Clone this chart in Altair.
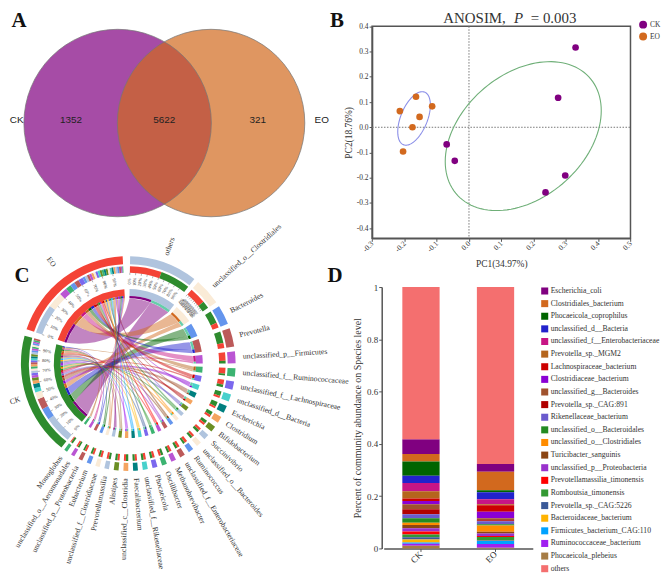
import math
import altair as alt
import pandas as pd

SERIF = "Liberation Serif"
SANS = "Liberation Sans"
INK = "#333333"

# ---------- Panel A ----------
VENN_SETS = ["CK", "EO"]
VENN_X = [-0.5, 0.5]
VENN_COLORS = ["#800080", "#D2691E"]
VENN_COUNTS = [1352, 5622, 321]
VENN_COUNT_X = [-1.0, 0.0, 1.0]
VENN_NAMES = ["CK", "EO"]
VENN_NAME_X = [-1.58, 1.685]

# ---------- Panel B ----------
PC1_CK = [0.33, 0.276, -0.069, -0.044, 0.237, 0.298]
PC2_CK = [0.316, 0.117, -0.068, -0.133, -0.258, -0.191]
PC1_EO = [-0.214, -0.164, -0.114, -0.153, -0.175, -0.204]
PC2_EO = [0.064, 0.121, 0.083, 0.041, 0.0, -0.096]
ELLIPSE_CK = dict(cx=0.168, cy=-0.035, rx=0.2415, ry=0.295, d=70)
ELLIPSE_EO = dict(cx=-0.17, cy=0.035, rx=0.0505, ry=0.106, d=60)
X_TICKS = [-0.3, -0.2, -0.1, 0, 0.1, 0.2, 0.3, 0.4, 0.5]
Y_TICKS = [-0.4, -0.3, -0.2, -0.1, 0, 0.1, 0.2, 0.3, 0.4]

# ---------- Panel C ----------
CHORD_NAMES = ["others", "unclassified_o__Clostridiales", "Bacteroides", "Prevotella",
               "unclassified_p__Firmicutes", "unclassified_f__Ruminococcaceae",
               "unclassified_f__Lachnospiraceae", "unclassified_d__Bacteria", "Escherichia",
               "Clostridium", "Bifidobacterium", "Succinivibrio", "unclassified_o__Bacteroides",
               "Ruminococcus", "unclassified_f__Enterobacteriaceae", "Methanobrevibacter",
               "Oscillibacter", "Phocaeicola", "unclassified_f__Rikenellaceae", "Faecalibacterium",
               "unclassified_c__Clostridia", "Alistipes", "Prevotellamassilia",
               "unclassified_f__Clostridiaceae", "Eubacterium", "unclassified_p__Proteobacteria",
               "unclassified_o__Aeromonadales", "Monoglobus"]
FLOW_EO = [19, 10, 3, 3, 5, 3.5, 3, 1.2, 1.2, 1.4, 1.3, 1.5, 1.4, 1.6, 1.5, 1.5, 1.3, 1.4, 1.4, 1.3,
           1.2, 1.3, 1.2, 1.3, 1.2, 1.2, 0.9, 0.6]
FLOW_CK = [18, 4.5, 7.5, 7, 1.5, 1, 1.5, 2.8, 2.8, 2.1, 1.9, 1.5, 1.4, 1.2, 1.3, 1.2, 1.4, 1.3, 1.3,
           1.3, 1.4, 1.3, 1.3, 1.1, 1.1, 1.0, 1.1, 1.2]
SECTOR_CYCLE = ["#B0C4DE", "#FAEBD7", "#6495ED", "#BC5A5A", "#BA55D3", "#3CB371", "#7B68EE", "#48D1CC",
                "#008080", "#F4A460", "#6B8E23"]
GROUP_RED = "#F44336"
GROUP_GREEN = "#2E8B2E"
TRACK_ALT = "#66CDAA"
SPAN_EO = (288.6, 357.0)
SPAN_CK = (218.5, 285.0)

# ---------- Panel D ----------
TAXA = ["Escherichia_coli", "Clostridiales_bacterium", "Phocaeicola_coprophilus", "unclassified_d__Bacteria",
        "unclassified_f__Enterobacteriaceae", "Prevotella_sp._MGM2", "Lachnospiraceae_bacterium",
        "Clostridiaceae_bacterium", "unclassified_g__Bacteroides", "Prevotella_sp._CAG:891",
        "Rikenellaceae_bacterium", "unclassified_o__Bacteroidales", "unclassified_o__Clostridiales",
        "Turicibacter_sanguinis", "unclassified_p__Proteobacteria", "Prevotellamassilia_timonensis",
        "Romboutsia_timonensis", "Prevotella_sp._CAG:5226", "Bacteroidaceae_bacterium",
        "Firmicutes_bacterium_CAG:110", "Ruminococcaceae_bacterium", "Phocaeicola_plebeius", "others"]
TAXA_COLORS = ["#800080", "#D2691E", "#006400", "#2222CC", "#C71585", "#B5651D", "#CC0000", "#8A00D4",
               "#A0522D", "#B00000", "#6A5ACD", "#228B22", "#FF8C00", "#8B4513", "#9932CC", "#FF0000",
               "#339933", "#3A5998", "#FFB300", "#00A2FF", "#A020F0", "#A67C45", "#F46F6F"]
STACK_CK = [0.057, 0.028, 0.055, 0.028, 0.031, 0.028, 0.010, 0.012, 0.019, 0.019, 0.016, 0.017, 0.008, 0.013,
            0.012, 0.012, 0.010, 0.009, 0.011, 0.005, 0.008, 0.010, 0.582]
STACK_EO = [0.030, 0.070, 0.008, 0.027, 0.019, 0.004, 0.025, 0.025, 0.007, 0.004, 0.0115, 0.005, 0.0241, 0.0064,
            0.009, 0.004, 0.012, 0.003, 0.001, 0.0115, 0.014, 0.0025, 0.677]

axis_common = dict(labelFont=SERIF, titleFont=SERIF, grid=False, domainColor="#555555", tickColor="#555555",
                   labelColor=INK, titleColor=INK, titleFontWeight="normal", labelPadding=1)
MINUS = "replace(datum.label, '\u2212', '-')"


def letter(text, x, y):
    return alt.Chart(pd.DataFrame({"t": [text]})).mark_text(
        font=SERIF, fontWeight="bold", fontSize=21, color="#111111", align="center", baseline="alphabetic"
    ).encode(text="t:N", x=alt.value(x), y=alt.value(y))


# ---------- A ----------
ax = alt.X("x:Q", axis=None, scale=alt.Scale(domain=[-1, 1], range=[62.3, 250.3]))
ay = alt.Y("y:Q", axis=None, scale=alt.Scale(domain=[-1, 1], range=[208, 20]))
VENN_SIZE = (2 * 94.3) ** 2
circles = [
    alt.Chart(pd.DataFrame({"x": [VENN_X[i]], "y": [0]})).mark_point(
        shape="circle", filled=True, size=VENN_SIZE, color=VENN_COLORS[i], opacity=0.7
    ).encode(x=ax, y=ay)
    for i in range(2)
]
outline = alt.Chart(pd.DataFrame({"x": VENN_X, "y": [0, 0]})).mark_point(
    shape="circle", filled=False, size=VENN_SIZE, stroke="#777777", strokeWidth=0.8, opacity=0.9
).encode(x=ax, y=ay)
counts = alt.Chart(pd.DataFrame({"x": VENN_COUNT_X, "y": [0.035] * 3, "t": VENN_COUNTS})).mark_text(
    font=SANS, fontSize=10, color="#222222"
).encode(x=ax, y=ay, text="t:Q")
names = alt.Chart(pd.DataFrame({"x": VENN_NAME_X, "y": [0.035, 0.035], "t": VENN_NAMES})).mark_text(
    font=SANS, fontSize=10, color="#222222"
).encode(x=ax, y=ay, text="t:N")
panel_a = alt.layer(*circles, outline, counts, names, letter("A", 10, 17)).properties(width=332, height=232)

# ---------- B ----------
bx_scale = alt.Scale(domain=[-0.3, 0.5], range=[33.3, 293.3], nice=False, zero=False)
by_scale = alt.Scale(domain=[-0.44, 0.4], range=[230, 16.7], nice=False, zero=False)
b_xaxis = alt.Axis(values=X_TICKS, labelAngle=-45, labelFontSize=7.5, titleFontSize=9.5, offset=-2,
                   tickSize=3, domainWidth=1.5, titlePadding=5, labelExpr=MINUS, labelAlign="right",
                   labelBaseline="middle", **axis_common)
b_yaxis = alt.Axis(values=Y_TICKS, labelFontSize=7.5, titleFontSize=9.5, offset=-33.3, tickSize=3,
                   domainWidth=1.5, titlePadding=3, labelExpr=MINUS, **axis_common)


def BX(f):
    return alt.X(f, scale=bx_scale, title="PC1(34.97%)", axis=b_xaxis)


def BY(f):
    return alt.Y(f, scale=by_scale, title="PC2(18.76%)", axis=b_yaxis)


def ellipse(p):
    rows = []
    for k in range(0, 121):
        t = 2 * math.pi * k / 120
        rows.append({"x": p["cx"] + p["rx"] * math.cos(t),
                     "y": p["cy"] + p["ry"] * math.cos(t - math.radians(p["d"])), "k": k})
    return pd.DataFrame(rows)


pts = pd.DataFrame({"x": PC1_CK + PC1_EO, "y": PC2_CK + PC2_EO, "Group": ["CK"] * 6 + ["EO"] * 6})
frame = alt.Chart(pd.DataFrame({"a": [-0.3], "b": [0.5], "c": [-0.44], "d": [0.4]})).mark_rect(
    fill="white", fillOpacity=0, stroke="#555555", strokeWidth=1.5
).encode(x=BX("a:Q"), x2="b:Q", y=BY("c:Q"), y2="d:Q")
vrule = alt.Chart(pd.DataFrame({"x": [0]})).mark_rule(color="#777777", strokeDash=[1.5, 1.5], strokeWidth=1).encode(
    x=BX("x:Q"), y=alt.value(16.7), y2=alt.value(230))
hrule = alt.Chart(pd.DataFrame({"y": [0]})).mark_rule(color="#777777", strokeDash=[1.5, 1.5], strokeWidth=1).encode(
    y=BY("y:Q"), x=alt.value(33.3), x2=alt.value(293.3))
ell_ck = alt.Chart(ellipse(ELLIPSE_CK)).mark_line(color="#6FAF78", strokeWidth=1.1).encode(
    x=BX("x:Q"), y=BY("y:Q"), order="k:Q")
ell_eo = alt.Chart(ellipse(ELLIPSE_EO)).mark_line(color="#8B8FE8", strokeWidth=1.1).encode(
    x=BX("x:Q"), y=BY("y:Q"), order="k:Q")
scatter = alt.Chart(pts).mark_circle(size=45, opacity=1).encode(
    x=BX("x:Q"), y=BY("y:Q"),
    color=alt.Color("Group:N", scale=alt.Scale(domain=VENN_SETS, range=VENN_COLORS),
                    legend=alt.Legend(orient="none", legendX=301, legendY=10, title=None, symbolSize=64,
                                      labelFont=SERIF, labelFontSize=7.5, labelColor=INK, rowPadding=3,
                                      labelOffset=2, symbolType="circle", padding=0)))
title_a = alt.Chart(pd.DataFrame({"t": ["ANOSIM,"]})).mark_text(font=SERIF, fontSize=15, align="left", baseline="alphabetic", color=INK).encode(
    text="t:N", x=alt.value(105), y=alt.value(13))
title_p = alt.Chart(pd.DataFrame({"t": ["P"]})).mark_text(font=SERIF, fontSize=15, fontStyle="italic", align="left", baseline="alphabetic", color=INK).encode(
    text="t:N", x=alt.value(176), y=alt.value(13))
title_c = alt.Chart(pd.DataFrame({"t": ["= 0.003"]})).mark_text(font=SERIF, fontSize=15, align="left", baseline="alphabetic", color=INK).encode(
    text="t:N", x=alt.value(193), y=alt.value(13))
panel_b = alt.layer(frame, vrule, hrule, ell_ck, ell_eo, scatter, title_a, title_p, title_c, letter("B", -2, 17)).properties(
    width=321, height=232)

# ---------- C ----------
C_R = 108
C_CX, C_CY = 120, 124
RING1 = (1.0, 0.926)
RING2 = (0.907, 0.846)
TRACK = (0.694, 0.63)
THIN = (0.63, 0.608)
RIBBON_R = 0.605
START, GAP = 1.0, 2.6

colors_sector = [SECTOR_CYCLE[i % 11] for i in range(len(CHORD_NAMES))]
ribbon_colors = [TAXA_COLORS[i % 22] for i in range(len(CHORD_NAMES))]
arcs = []


def add_arc(a, b, radii, color):
    arcs.append({"t0": a, "t1": b, "r0": radii[0], "r1": radii[1], "c": color})


species_parts = []
ang = START
for i, name in enumerate(CHORD_NAMES):
    e, c = FLOW_EO[i], FLOW_CK[i]
    add_arc(ang, ang + e + c, RING1, colors_sector[i])
    add_arc(ang, ang + e + c, TRACK, colors_sector[i])
    first = ("EO", e) if e >= c else ("CK", c)
    second = ("CK", c) if e >= c else ("EO", e)
    a = ang
    parts = {}
    for grp, w in (first, second):
        add_arc(a, a + w, RING2, GROUP_RED if grp == "EO" else GROUP_GREEN)
        add_arc(a, a + w, THIN, ribbon_colors[i] if grp == "EO" else TRACK_ALT)
        parts[grp] = (a, a + w)
        a += w
    species_parts.append({"name": name, "start": ang, "end": a, "parts": parts})
    ang = a + GAP

ribbons = []
for grp, span, flows, col in (("CK", SPAN_CK, FLOW_CK, GROUP_GREEN), ("EO", SPAN_EO, FLOW_EO, GROUP_RED)):
    add_arc(span[0], span[1], RING1, col)
    add_arc(span[0], span[1], TRACK, col)
    k = (span[1] - span[0]) / sum(flows)
    order = sorted(range(len(flows)), key=lambda j: -flows[j])
    a = span[0]
    for j in order:
        b = a + flows[j] * k
        add_arc(a, b, RING2, colors_sector[j])
        add_arc(a, b, THIN, ribbon_colors[j])
        ribbons.append((f"{grp}-{j}", a, b, *species_parts[j]["parts"][grp], ribbon_colors[j]))
        a = b


def polar(deg, r):
    th = math.radians(deg)
    return r * math.sin(th), r * math.cos(th)


CTRL = (-0.10, 0.13)
rows = []
for rid, a0, a1, b0, b1, col in ribbons:
    seq = []
    steps = max(3, int((a1 - a0) / 1.5))
    for s in range(steps + 1):
        seq.append(polar(a0 + (a1 - a0) * s / steps, RIBBON_R))
    p0, p2 = polar(a1, RIBBON_R), polar(b0, RIBBON_R)
    for s in range(1, 24):
        t = s / 24
        seq.append(((1 - t) ** 2 * p0[0] + 2 * t * (1 - t) * CTRL[0] + t * t * p2[0],
                    (1 - t) ** 2 * p0[1] + 2 * t * (1 - t) * CTRL[1] + t * t * p2[1]))
    steps = max(3, int((b1 - b0) / 1.5))
    for s in range(steps + 1):
        seq.append(polar(b0 + (b1 - b0) * s / steps, RIBBON_R))
    p0, p2 = polar(b1, RIBBON_R), polar(a0, RIBBON_R)
    for s in range(1, 24):
        t = s / 24
        seq.append(((1 - t) ** 2 * p0[0] + 2 * t * (1 - t) * CTRL[0] + t * t * p2[0],
                    (1 - t) ** 2 * p0[1] + 2 * t * (1 - t) * CTRL[1] + t * t * p2[1]))
    for n, (x, y) in enumerate(seq):
        rows.append({"id": rid, "n": n, "x": round(x, 4), "y": round(y, 4), "c": col})
ribbon_df = pd.DataFrame(rows)

cx_scale = alt.Scale(domain=[-1, 1], range=[C_CX - C_R, C_CX + C_R], nice=False, zero=False)
cy_scale = alt.Scale(domain=[-1, 1], range=[C_CY + C_R, C_CY - C_R], nice=False, zero=False)
cx = alt.X("x:Q", scale=cx_scale, axis=None)
cy = alt.Y("y:Q", scale=cy_scale, axis=None)

arc_layer = alt.Chart(pd.DataFrame(arcs)).mark_arc().encode(
    theta=alt.Theta("t0:Q", scale=alt.Scale(domain=[0, 360], range=[0, 2 * math.pi]), stack=None),
    theta2="t1:Q",
    radius=alt.Radius("r0:Q", scale=alt.Scale(domain=[0, 1], range=[0, C_R])),
    radius2="r1:Q",
    fill=alt.Fill("c:N", scale=None),
    x=alt.value(C_CX), y=alt.value(C_CY))

ribbon_layer = alt.Chart(ribbon_df).mark_line(strokeWidth=0, opacity=0.48).encode(
    x=cx, y=cy, detail="id:N", order="n:Q", fill=alt.Fill("c:N", scale=None))

tick_rows, tick_text = [], []
for a, b in (SPAN_CK, SPAN_EO, (species_parts[0]["start"], species_parts[0]["end"]),
             (species_parts[1]["start"], species_parts[1]["end"])):
    for q in range(10):
        d = a + (b - a) * q / 10
        x1, y1 = polar(d, RING2[1])
        x2, y2 = polar(d, RING2[1] - 0.02)
        tick_rows.append({"x": x1, "y": y1, "x2": x2, "y2": y2})
        xt, yt = polar(d, 0.765)
        tick_text.append({"x": xt, "y": yt, "t": f"{q * 10}%", "rot": (d - 90) % 360 if d < 180 else (d + 90) % 360})
tick_layer = alt.Chart(pd.DataFrame(tick_rows)).mark_rule(color="#666666", strokeWidth=0.5).encode(
    x=cx, y=cy, x2="x2:Q", y2="y2:Q")
tick_label_layer = alt.Chart(pd.DataFrame(tick_text)).mark_text(font=SERIF, fontSize=4.5, color=INK, baseline="middle").encode(
    x=cx, y=cy, text="t:N", angle=alt.Angle("rot:Q", scale=None))

lab_r, lab_l = [], []
for sp in species_parts:
    mid = (sp["start"] + sp["end"]) / 2
    x, y = polar(mid, 1.07)
    if mid < 180:
        lab_r.append({"x": x, "y": y, "t": sp["name"], "rot": (mid - 90) % 360})
    else:
        lab_l.append({"x": x, "y": y, "t": sp["name"], "rot": (mid + 90) % 360})
for name, span, rr in (("CK", SPAN_CK, 1.06), ("EO", SPAN_EO, 1.14)):
    mid = (span[0] + span[1]) / 2
    x, y = polar(mid, rr)
    lab_l.append({"x": x, "y": y, "t": name, "rot": (mid + 90) % 360})
label_r = alt.Chart(pd.DataFrame(lab_r)).mark_text(font=SERIF, fontSize=7.7, color=INK, align="left", baseline="middle").encode(
    x=cx, y=cy, text="t:N", angle=alt.Angle("rot:Q", scale=None))
label_l = alt.Chart(pd.DataFrame(lab_l)).mark_text(font=SERIF, fontSize=7.7, color=INK, align="right", baseline="middle").encode(
    x=cx, y=cy, text="t:N", angle=alt.Angle("rot:Q", scale=None))
panel_c = alt.layer(ribbon_layer, arc_layer, tick_layer, tick_label_layer, label_r, label_l, letter("C", 13, 42)).properties(
    width=332, height=333)

# ---------- D ----------
rows = []
for i, t in enumerate(TAXA):
    o = len(TAXA) if t == "others" else len(TAXA) - 2 - i
    rows.append({"g": "CK", "t": t, "v": STACK_CK[i], "o": o})
    rows.append({"g": "EO", "t": t, "v": STACK_EO[i], "o": o})
bars = alt.Chart(pd.DataFrame(rows)).mark_bar(stroke=None).encode(
    x=alt.X("g:N", title=None, scale=alt.Scale(domain=["CK", "EO"], range=[45, 195], paddingInner=0.5, paddingOuter=0.25),
            axis=alt.Axis(labelAngle=-45, labelFontSize=9, offset=-23, tickSize=3, domainWidth=1.5,
                          labelAlign="right", labelBaseline="middle", **axis_common)),
    y=alt.Y("v:Q", stack="zero", title="Percent of community abundance on Species level",
            scale=alt.Scale(domain=[0, 1], range=[310, 47], nice=False),
            axis=alt.Axis(values=[0, 0.2, 0.4, 0.6, 0.8, 1], format="~g", labelFontSize=9, titleFontSize=10,
                          offset=-43, tickSize=3, domainWidth=1.5, titlePadding=4, **axis_common)),
    color=alt.Color("t:N", scale=alt.Scale(domain=TAXA, range=TAXA_COLORS),
                    legend=alt.Legend(orient="none", legendX=203, legendY=47, title=None, symbolType="square",
                                      symbolSize=50, symbolStrokeWidth=0, labelFont=SERIF, labelFontSize=7.7,
                                      labelColor=INK, labelLimit=0, rowPadding=4.7, labelOffset=2,
                                      padding=0, columns=1)),
    order=alt.Order("o:Q"))
panel_d = alt.layer(bars, letter("D", -4, 42)).properties(width=321, height=333)

chart = alt.concat(panel_a, panel_b, panel_c, panel_d, columns=2, spacing=0, bounds="flush").resolve_scale(
    color="independent"
).properties(padding=0).configure_view(stroke=None)

chart.save("out.html", embed_options={"renderer": "svg", "actions": False})
